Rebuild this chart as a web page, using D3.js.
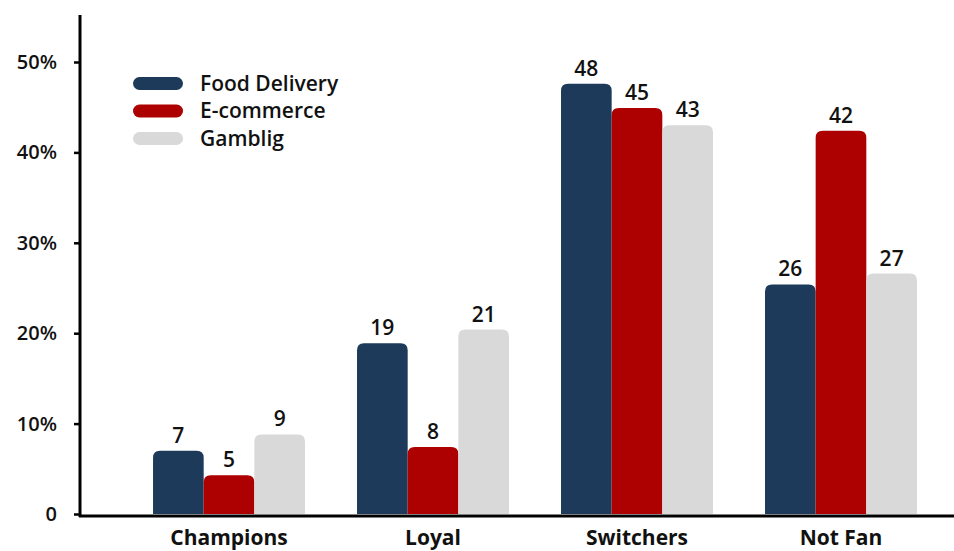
<!DOCTYPE html>
<html>
<head>
<meta charset="utf-8">
<script src="https://cdn.jsdelivr.net/npm/d3@7"></script>
<style>
  body { margin: 0; background: #fff; }
  text { font-family: "Open Sans", "DejaVu Sans", sans-serif; }
</style>
</head>
<body>
<div id="chart"></div>
<script>
const categories = ["Champions", "Loyal", "Switchers", "Not Fan"];
const seriesNames = ["Food Delivery", "E-commerce", "Gamblig"];
const foodDelivery = [7.0, 18.9, 47.6, 25.4];
const eCommerce = [4.3, 7.4, 44.9, 42.4];
const gambling = [8.8, 20.4, 43.0, 26.6];
const foodLabels = ["7", "19", "48", "26"];
const eComLabels = ["5", "8", "45", "42"];
const gambLabels = ["9", "21", "43", "27"];
const yTicks = [0, 10, 20, 30, 40, 50];

const colors = ["#1d3a5a", "#ad0000", "#d9d9d9"];

const W = 954, H = 551;
const svg = d3.select("#chart")
  .append("svg")
  .attr("width", W)
  .attr("height", H);

const series = [
  { name: seriesNames[0], values: foodDelivery, labels: foodLabels },
  { name: seriesNames[1], values: eCommerce, labels: eComLabels },
  { name: seriesNames[2], values: gambling, labels: gambLabels }
];

const x = d3.scaleBand()
  .domain(categories)
  .range([80, 990])
  .paddingInner(0.255)
  .paddingOuter(0.358);

const xSub = d3.scaleBand()
  .domain(seriesNames)
  .range([0, x.bandwidth()]);

const y = d3.scaleLinear()
  .domain([0, 50])
  .range([514, 62]);

// y axis
const yAxis = svg.append("g")
  .attr("transform", "translate(80,0)")
  .call(d3.axisLeft(y).tickValues(yTicks).tickSize(6).tickPadding(17)
    .tickFormat(d => d === 0 ? "0" : d + "%"));
yAxis.select(".domain").remove();
yAxis.selectAll(".tick line").attr("stroke", "#000").attr("stroke-width", 2.5);
yAxis.selectAll(".tick text")
  .style("font-size", "20px")
  .style("font-weight", "600")
  .attr("fill", "#111");

svg.append("line")
  .attr("x1", 80).attr("x2", 80)
  .attr("y1", 15).attr("y2", 517)
  .attr("stroke", "#000").attr("stroke-width", 3);

// rounded-top bar path
function barPath(x0, y0, w, h, r) {
  r = Math.min(r, h, w / 2);
  return `M${x0},${y0 + h}V${y0 + r}Q${x0},${y0} ${x0 + r},${y0}` +
    `H${x0 + w - r}Q${x0 + w},${y0} ${x0 + w},${y0 + r}V${y0 + h}Z`;
}

const groups = svg.selectAll("g.group")
  .data(categories)
  .join("g")
  .attr("class", "group")
  .attr("transform", d => `translate(${x(d)},0)`);

groups.selectAll("path")
  .data((c, i) => series.map((s, j) => ({ name: s.name, v: s.values[i], label: s.labels[i], color: colors[j] })))
  .join("path")
  .attr("d", d => barPath(xSub(d.name), y(d.v), xSub.bandwidth(), y(0) - y(d.v), 7))
  .attr("fill", d => d.color);

groups.selectAll("text.val")
  .data((c, i) => series.map(s => ({ name: s.name, v: s.values[i], label: s.labels[i] })))
  .join("text")
  .attr("class", "val")
  .attr("x", d => xSub(d.name) + xSub.bandwidth() / 2)
  .attr("y", d => y(d.v) - 8)
  .attr("text-anchor", "middle")
  .style("font-size", "21px")
  .style("font-weight", "600")
  .attr("fill", "#111")
  .text(d => d.label);

// x axis line
svg.append("line")
  .attr("x1", 79).attr("x2", 954)
  .attr("y1", 516).attr("y2", 516)
  .attr("stroke", "#000").attr("stroke-width", 3);

svg.selectAll("text.cat")
  .data(categories)
  .join("text")
  .attr("class", "cat")
  .attr("x", d => x(d) + x.bandwidth() / 2)
  .attr("y", 545)
  .attr("text-anchor", "middle")
  .style("font-size", "21px")
  .style("font-weight", "bold")
  .attr("fill", "#111")
  .text(d => d);

// Legend
const legend = svg.selectAll(".legend")
  .data(series)
  .join("g")
  .attr("class", "legend")
  .attr("transform", (d, i) => `translate(133, ${77 + i * 27.5})`);

legend.append("rect")
  .attr("width", 50)
  .attr("height", 13)
  .attr("rx", 6.5)
  .attr("fill", (d, i) => colors[i]);

legend.append("text")
  .attr("x", 67)
  .attr("y", 6.5)
  .attr("dy", ".35em")
  .style("font-size", "21px")
  .style("font-weight", "600")
  .attr("fill", "#111")
  .text(d => d.name);
</script>
</body>
</html>
